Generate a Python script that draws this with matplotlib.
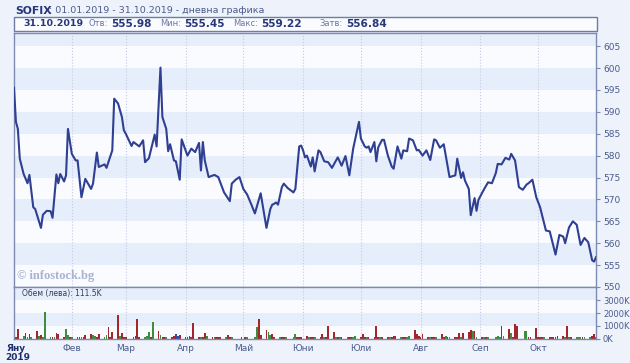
import pandas as pd
import numpy as np
import matplotlib
matplotlib.use("Agg")
import matplotlib.pyplot as plt
from matplotlib.patches import Rectangle

# SOFIX daily closes
line_dates = ["01-02", "01-03", "01-04", "01-05", "01-07", "01-09", "01-10", "01-12", "01-13", "01-16",
              "01-17", "01-19", "01-21", "01-22", "01-24", "01-25", "01-26", "01-28", "01-29", "01-30",
              "02-01", "02-03", "02-04", "02-06", "02-08", "02-11", "02-12", "02-14", "02-15", "02-18",
              "02-19", "02-22", "02-23", "02-25", "02-27", "02-28",
              "03-01", "03-04", "03-05", "03-08", "03-10", "03-11", "03-13", "03-16", "03-17", "03-19",
              "03-20", "03-22", "03-23", "03-24", "03-26", "03-27", "03-29", "03-30",
              "04-02", "04-04", "04-06", "04-08", "04-09", "04-10", "04-11", "04-13", "04-16", "04-18",
              "04-21", "04-24", "04-25", "04-27", "04-29",
              "05-01", "05-03", "05-05", "05-07", "05-10", "05-13", "05-15", "05-16", "05-17", "05-18",
              "05-19", "05-21", "05-22", "05-24", "05-27", "05-28", "05-30", "05-31",
              "06-01", "06-02", "06-03", "06-05", "06-06", "06-07", "06-09", "06-10", "06-12", "06-14",
              "06-16", "06-19", "06-21", "06-23", "06-25", "06-27", "06-30",
              "07-01", "07-03", "07-04", "07-05", "07-06", "07-08", "07-09", "07-10", "07-12", "07-13",
              "07-15", "07-17", "07-18", "07-20", "07-22", "07-23", "07-25", "07-26", "07-28", "07-30", "07-31",
              "08-02", "08-04", "08-06", "08-08", "08-09", "08-11", "08-13", "08-16", "08-19", "08-20",
              "08-22", "08-23", "08-24", "08-26", "08-27", "08-29", "08-30", "08-31",
              "09-03", "09-05", "09-07", "09-09", "09-10", "09-12", "09-14", "09-16", "09-17", "09-19",
              "09-21", "09-23", "09-25", "09-26", "09-28", "09-30",
              "10-02", "10-05", "10-07", "10-10", "10-12", "10-14", "10-15", "10-17", "10-19", "10-21",
              "10-23", "10-25", "10-27", "10-29", "10-30", "10-31"]
line_vals = [595.5, 587.7, 586.1, 579.3, 575.8, 573.7, 575.6, 568.2, 567.8, 563.5,
             566.5, 567.4, 567.3, 565.8, 575.7, 573.7, 575.8, 574.1, 575.5, 586.1,
             580.4, 578.9, 578.9, 570.5, 574.7, 572.4, 573.6, 580.7, 577.4, 578.0,
             577.2, 581.2, 593.0, 591.9, 588.8, 585.8,
             585.0, 582.2, 583.1, 582.1, 583.5, 578.5, 579.4, 584.8, 582.1, 600.1,
             588.8, 586.1, 581.0, 582.6, 578.9, 578.7, 574.5, 583.7,
             580.0, 581.6, 580.8, 582.9, 576.6, 583.1, 578.9, 575.1, 575.6, 575.1,
             571.6, 569.6, 573.6, 574.5, 575.1,
             572.4, 571.1, 569.0, 566.8, 571.4, 563.5, 567.8, 568.8, 569.0, 569.3,
             568.8, 572.8, 573.6, 572.6, 571.6, 572.4, 582.1, 582.3,
             581.2, 579.6, 580.0, 577.5, 579.6, 576.4, 581.2, 580.8, 578.7, 578.5,
             577.2, 579.6, 577.7, 579.9, 575.5, 581.6, 587.7,
             583.9, 582.1, 581.8, 582.1, 580.8, 583.1, 578.7, 581.9, 583.6, 583.6,
             580.0, 577.5, 577.0, 582.1, 579.3, 581.2, 581.0, 583.9, 583.5, 581.2, 581.3,
             580.0, 581.2, 579.0, 583.7, 583.5, 581.8, 582.6, 575.1, 575.5, 579.3,
             574.9, 576.2, 574.3, 572.4, 566.4, 570.3, 567.4, 569.9,
             572.4, 573.9, 573.7, 576.0, 578.1, 578.0, 579.5, 579.1, 580.4, 578.9,
             572.8, 572.2, 573.4, 573.7, 574.5, 570.5,
             568.2, 562.9, 562.7, 557.4, 561.9, 561.5, 560.0, 563.6, 565.0, 564.2,
             559.6, 561.2, 560.2, 556.1, 555.8, 556.8]

# daily turnover, thousand leva, one value per trading day; r = down, g = up, b = flat
holidays = ["2019-01-01", "2019-03-04", "2019-04-26", "2019-04-29", "2019-05-01",
            "2019-05-06", "2019-05-24", "2019-09-06", "2019-09-23"]
vol_k = {
    1: [120, 150, 710, 200, 450, 150, 340, 120, 580, 200, 250, 120, 2100, 100, 150, 120, 450, 390, 120, 710, 250, 100],
    2: [150, 80, 100, 120, 80, 250, 390, 310, 200, 150, 390, 150, 250, 870, 150, 520, 1840, 200, 450, 150],
    3: [120, 150, 200, 1500, 150, 100, 200, 520, 150, 1260, 600, 250, 150, 120, 100, 150, 200, 390, 200, 250],
    4: [120, 150, 200, 150, 1230, 120, 150, 120, 450, 200, 150, 120, 100, 80, 100, 120, 270, 100, 80, 120],
    5: [80, 150, 100, 870, 1500, 250, 655, 520, 250, 390, 150, 100, 80, 120, 100, 100, 390, 150, 120, 150],
    6: [200, 150, 120, 150, 100, 150, 340, 120, 150, 970, 520, 150, 100, 120, 80, 100, 120, 80, 150, 200],
    7: [150, 390, 120, 100, 150, 120, 970, 100, 150, 120, 100, 80, 150, 200, 200, 150, 120, 100, 150, 200, 650, 390, 200],
    8: [150, 340, 120, 100, 150, 100, 150, 390, 100, 200, 150, 120, 100, 150, 450, 120, 450, 520, 650, 600, 560, 150],
    9: [150, 100, 80, 120, 150, 200, 150, 1000, 200, 710, 450, 150, 1130, 970, 600, 600, 150, 120, 790],
    10: [100, 120, 150, 100, 120, 100, 150, 150, 200, 200, 120, 970, 150, 100, 120, 100, 150, 120, 100, 150, 200, 390, 111.5],
}
vol_dir = {
    1: "rrrgrgrgrgrgggrgrrrggr",
    2: "grrgrrrggrrggrrrrgrr",
    3: "rrrrrgggrgrgrrgrrbbr",
    4: "rrrrrrgrrgrgrrrgrrgr",
    5: "rgggrrrggrrgrrgggrrr",
    6: "rgrrgrrgrrrgrgrgrrgg",
    7: "rrrgrrrrgrrgrrrgrrggrrr",
    8: "rrrgrrgrrgrgrrrgrrrgrg",
    9: "rgrggggrgrgrrrggrrr",
    10: "rrrgrrrrrrgrgrgggrggrrg",
}

month_names = ["Яну", "Фев", "Мар", "Апр", "Май", "Юни", "Юли", "Авг", "Сеп", "Окт"]
y_ticks = list(range(550, 606, 5))
vol_ticks = [0, 1000, 2000, 3000]

x = pd.to_datetime(["2019-" + d for d in line_dates])
days = pd.bdate_range("2019-01-01", "2019-10-31")
days = days[~days.isin(pd.to_datetime(holidays))]
vol = np.concatenate([vol_k[m] for m in range(1, 11)])
dirs = "".join(vol_dir[m] for m in range(1, 11))
cmap = {"r": "#a3262b", "g": "#3d8d3d", "b": "#2f4fa3"}
bar_colors = [cmap[c] for c in dirs]

W, H = 630, 363
fig = plt.figure(figsize=(W / 100, H / 100), dpi=100, facecolor="#edf2fb")
ax = fig.add_axes([14 / W, 1 - 287 / H, 582 / W, 254 / H])
axv = fig.add_axes([14 / W, 1 - 338.5 / H, 582 / W, 51.5 / H], sharex=ax)

edge = "#7d8bb3"
lab = "#4c5b8c"
x0, x1 = pd.Timestamp("2019-01-02"), pd.Timestamp("2019-10-31")
month_starts = [x0] + [pd.Timestamp(2019, m, 1) for m in range(2, 11)]

# price panel
ax.set_facecolor("#f9fbff")
for lo in range(555, 610, 10):
    ax.axhspan(lo, lo + 5, color="#e7eefb", lw=0, zorder=0)
for d in month_starts[1:]:
    ax.axvline(d, color="#c3cbe3", lw=0.8, ls=":", zorder=1)
    axv.axvline(d, color="#c3cbe3", lw=0.8, ls=":", zorder=1)
ax.plot(x, line_vals, color="#2f3f92", lw=1.5, zorder=3, solid_joinstyle="round")
ax.set_ylim(550, 608)
ax.set_xlim(x0, x1)
ax.yaxis.tick_right()
ax.set_yticks(y_ticks)
ax.tick_params(axis="y", direction="out", length=3, width=0.8, colors=edge, labelcolor=lab, labelsize=6.5, pad=2)
ax.tick_params(axis="x", bottom=False, labelbottom=False)
for s in ax.spines.values():
    s.set_color(edge)
    s.set_linewidth(1)
ax.text(0.006, 0.043, "© infostock.bg", transform=ax.transAxes, family="Liberation Serif",
        weight="bold", size=9, color="#a8b3d0", va="center")

# volume panel
axv.set_facecolor("#f9fbff")
axv.axhspan(1000, 2000, color="#e7eefb", lw=0, zorder=0)
axv.axhspan(3000, 4050, color="#e7eefb", lw=0, zorder=0)
axv.bar(days, vol, width=0.9, color=bar_colors, zorder=2)
axv.set_ylim(0, 4050)
axv.yaxis.tick_right()
axv.set_yticks(vol_ticks)
axv.set_yticklabels([f"{v}K" for v in vol_ticks])
axv.tick_params(axis="y", direction="out", length=3, width=0.8, colors=edge, labelcolor=lab, labelsize=6, pad=2)
axv.set_xticks(month_starts)
axv.set_xticklabels([""] * len(month_starts))
axv.tick_params(axis="x", length=0)
for s in axv.spines.values():
    s.set_color(edge)
    s.set_linewidth(1)
axv.text(0.014, 0.88, "Обем (лева): 111.5K", transform=axv.transAxes, size=5.5, color="#333a55", va="center")

# month labels
for d, name in zip(month_starts, month_names):
    xf = fig.transFigure.inverted().transform(axv.transData.transform((matplotlib.dates.date2num(d), 0)))[0]
    if name == "Яну":
        fig.text(xf + 2 / W, 1 - 348.5 / H, name, ha="center", va="center", size=6.5, weight="bold", color="#1e2d6b")
        fig.text(xf + 4 / W, 1 - 357 / H, "2019", ha="center", va="center", size=6.5, weight="bold", color="#1e2d6b")
    else:
        fig.text(xf, 1 - 348.5 / H, name, ha="center", va="center", size=6.5, color=lab)

# header
fig.text(15 / W, 1 - 10.5 / H, "SOFIX", size=7.8, weight="bold", color="#27377a", va="center")
fig.text(49 / W, 1 - 10.5 / H, ": 01.01.2019 - 31.10.2019 - дневна графика", size=6.8, color="#4c5b8c", va="center")
fig.patches.append(Rectangle((14 / W, 1 - 30.7 / H), 583 / W, 13.7 / H, transform=fig.transFigure,
                             fc="#fafbff", ec="#6d7ca8", lw=1))
fig.text(23 / W, 1 - 24 / H, "31.10.2019", size=6.8, weight="bold", color="#27377a", va="center")
header = [(111, "Отв:", "555.98"), (184, "Мин:", "555.45"), (261, "Макс:", "559.22"), (346, "Затв:", "556.84")]
for px, t, v in header:
    fig.text((px - 3) / W, 1 - 24 / H, t, size=6, color="#6a78a2", va="center", ha="right")
    fig.text(px / W, 1 - 24 / H, v, size=7.6, weight="bold", color="#27377a", va="center")

fig.savefig("out.png", dpi=100, facecolor=fig.get_facecolor())
